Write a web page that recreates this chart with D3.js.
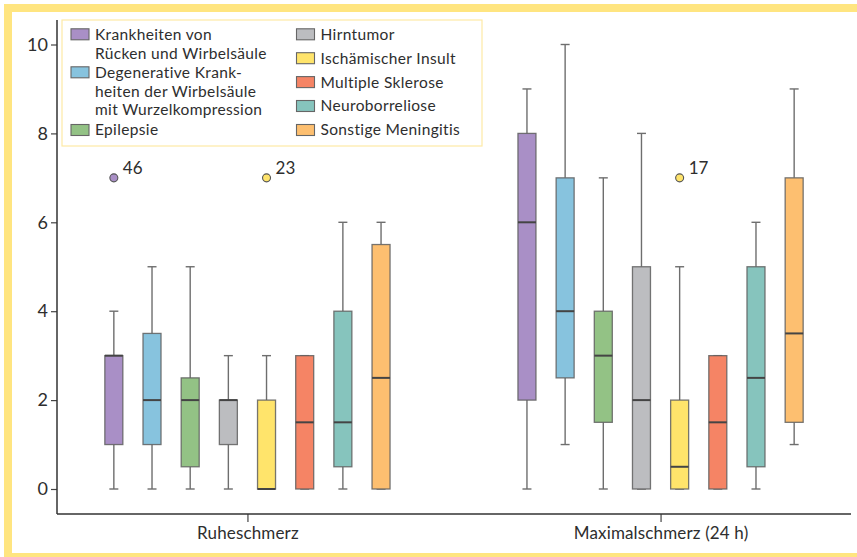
<!DOCTYPE html>
<html>
<head>
<meta charset="utf-8">
<script src="https://cdn.jsdelivr.net/npm/d3@7"></script>
<style>
  html, body { margin: 0; padding: 0; background: #fff; }
  svg { display: block; }
  text { font-family: Lato, "Open Sans", sans-serif; fill: #2e2e2e; }
</style>
</head>
<body>
<svg id="chart" width="857" height="557"></svg>
<script>
// ---------- data ----------
const groups = ["Ruheschmerz", "Maximalschmerz (24 h)"];
const seriesNames = [
  "Krankheiten von Rücken und Wirbelsäule",
  "Degenerative Krankheiten der Wirbelsäule mit Wurzelkompression",
  "Epilepsie",
  "Hirntumor",
  "Ischämischer Insult",
  "Multiple Sklerose",
  "Neuroborreliose",
  "Sonstige Meningitis"
];
const legendLines = [
  ["Krankheiten von", "Rücken und Wirbelsäule"],
  ["Degenerative Krank-", "heiten der Wirbelsäule", "mit Wurzelkompression"],
  ["Epilepsie"],
  ["Hirntumor"],
  ["Ischämischer Insult"],
  ["Multiple Sklerose"],
  ["Neuroborreliose"],
  ["Sonstige Meningitis"]
];
const colors = ["#a98fc6", "#87c3de", "#93c285", "#bcbdc0", "#ffe46b", "#f58465", "#86c4bd", "#fdbf70"];
// [min, q1, median, q3, max] per series
const ruheStats = [
  [0, 1, 3, 3, 4],
  [0, 1, 2, 3.5, 5],
  [0, 0.5, 2, 2.5, 5],
  [0, 1, 2, 2, 3],
  [0, 0, 0, 2, 3],
  [0, 0, 1.5, 3, 3],
  [0, 0.5, 1.5, 4, 6],
  [0, 0, 2.5, 5.5, 6]
];
const maxStats = [
  [0, 2, 6, 8, 9],
  [1, 2.5, 4, 7, 10],
  [0, 1.5, 3, 4, 7],
  [0, 0, 2, 5, 8],
  [0, 0, 0.5, 2, 5],
  [0, 0, 1.5, 3, 3],
  [0, 0.5, 2.5, 5, 6],
  [1, 1.5, 3.5, 7, 9]
];
// outliers
const outlierGroup = [0, 0, 1];
const outlierSeries = [0, 4, 4];
const outlierValue = [7, 7, 7];
const outlierLabel = ["46", "23", "17"];
const yTicks = [0, 2, 4, 6, 8, 10];

// ---------- layout ----------
const svg = d3.select("#chart");
const W = 857, H = 557;
const FONT = "Lato, 'Open Sans', sans-serif";

svg.append("rect").attr("x", 0).attr("y", 0).attr("width", W).attr("height", H).attr("fill", "#fff");
// yellow frame (right side cropped off)
svg.append("rect")
  .attr("x", 8).attr("y", 8).attr("width", W + 20).attr("height", 549)
  .attr("fill", "none").attr("stroke", "#ffe580").attr("stroke-width", 8);

const axisX0 = 57, axisX1 = 851, axisY = 514;
const y = d3.scaleLinear().domain([0, 10]).range([489, 44.5]);
const x = d3.scalePoint().domain(groups).range([axisX0, axisX1]).padding(0.461);
const inner = d3.scalePoint().domain(d3.range(seriesNames.length)).range([-133.6, 133.6]);
const boxW = 18, capW = 9;

// Y axis
const yAxis = svg.append("g").attr("transform", `translate(${axisX0},0)`)
  .call(d3.axisLeft(y).tickValues(yTicks).tickSize(6).tickPadding(3).tickFormat(d3.format("d")));
yAxis.select(".domain").remove();
yAxis.selectAll(".tick line").attr("stroke", "#444").attr("stroke-width", 1.2);
yAxis.selectAll(".tick text").attr("font-size", 18).attr("fill", "#2e2e2e").style("font-family", FONT);
svg.append("line").attr("x1", axisX0).attr("x2", axisX0).attr("y1", 20).attr("y2", axisY)
  .attr("stroke", "#333").attr("stroke-width", 1.5);

// X axis
const xAxis = svg.append("g").attr("transform", `translate(0,${axisY})`)
  .call(d3.axisBottom(x).tickSize(8).tickPadding(5));
xAxis.select(".domain").remove();
xAxis.selectAll(".tick line").attr("stroke", "#444").attr("stroke-width", 1.2);
xAxis.selectAll(".tick text").attr("font-size", 17).attr("fill", "#2e2e2e").style("font-family", FONT)
  .style("letter-spacing", "0.15px");
svg.append("line").attr("x1", axisX0).attr("x2", axisX1).attr("y1", axisY).attr("y2", axisY)
  .attr("stroke", "#333").attr("stroke-width", 1.5);

// Boxes
const statsByGroup = [ruheStats, maxStats];
groups.forEach((g, gi) => {
  const gEl = svg.append("g");
  statsByGroup[gi].forEach((s, si) => {
    const cx = x(g) + inner(si);
    const [mn, q1, med, q3, mx] = s;
    const wc = "#6e6e6e";
    gEl.append("line").attr("x1", cx).attr("x2", cx).attr("y1", y(q3)).attr("y2", y(mx))
      .attr("stroke", wc).attr("stroke-width", 1.4);
    gEl.append("line").attr("x1", cx).attr("x2", cx).attr("y1", y(q1)).attr("y2", y(mn))
      .attr("stroke", wc).attr("stroke-width", 1.4);
    gEl.append("line").attr("x1", cx - capW / 2).attr("x2", cx + capW / 2).attr("y1", y(mx)).attr("y2", y(mx))
      .attr("stroke", wc).attr("stroke-width", 1.4);
    gEl.append("line").attr("x1", cx - capW / 2).attr("x2", cx + capW / 2).attr("y1", y(mn)).attr("y2", y(mn))
      .attr("stroke", wc).attr("stroke-width", 1.4);
    gEl.append("rect").attr("x", cx - boxW / 2).attr("y", y(q3)).attr("width", boxW)
      .attr("height", Math.max(0, y(q1) - y(q3)))
      .attr("fill", colors[si]).attr("stroke", "#5f5f5f").attr("stroke-opacity", 0.85).attr("stroke-width", 1.3);
    gEl.append("line").attr("x1", cx - boxW / 2).attr("x2", cx + boxW / 2).attr("y1", y(med)).attr("y2", y(med))
      .attr("stroke", "#444").attr("stroke-width", 2);
  });
});

// Outliers
outlierValue.forEach((v, i) => {
  const cx = x(groups[outlierGroup[i]]) + inner(outlierSeries[i]);
  svg.append("circle").attr("cx", cx).attr("cy", y(v)).attr("r", 4)
    .attr("fill", colors[outlierSeries[i]]).attr("stroke", "#555").attr("stroke-width", 1.1);
  svg.append("text").attr("x", cx + 9).attr("y", y(v) - 4).attr("font-size", 17)
    .text(outlierLabel[i]);
});

// Legend
const leg = svg.append("g");
leg.append("rect").attr("x", 62).attr("y", 20).attr("width", 420).attr("height", 126)
  .attr("fill", "#fff").attr("stroke", "#fdeaa6").attr("stroke-width", 1.2);
const lineH = 18.8;
const leftStarts = [34.3, 72.3, 130];
const rightStarts = [34.3, 58.2, 82.1, 106, 130];
legendLines.forEach((lines, i) => {
  const left = i < 3;
  const cy = left ? leftStarts[i] : rightStarts[i - 3];
  const sx = left ? 71 : 296.5;
  const tx = left ? 95 : 320.5;
  leg.append("rect").attr("x", sx).attr("y", cy - 5.5).attr("width", 18).attr("height", 11)
    .attr("fill", colors[i]).attr("stroke", "#666").attr("stroke-width", 1.1);
  lines.forEach((l, li) => {
    leg.append("text").attr("x", tx).attr("y", cy + li * lineH).attr("dy", "0.35em")
      .attr("font-size", 15.5).style("letter-spacing", "0.35px").text(l);
  });
});
</script>
</body>
</html>
